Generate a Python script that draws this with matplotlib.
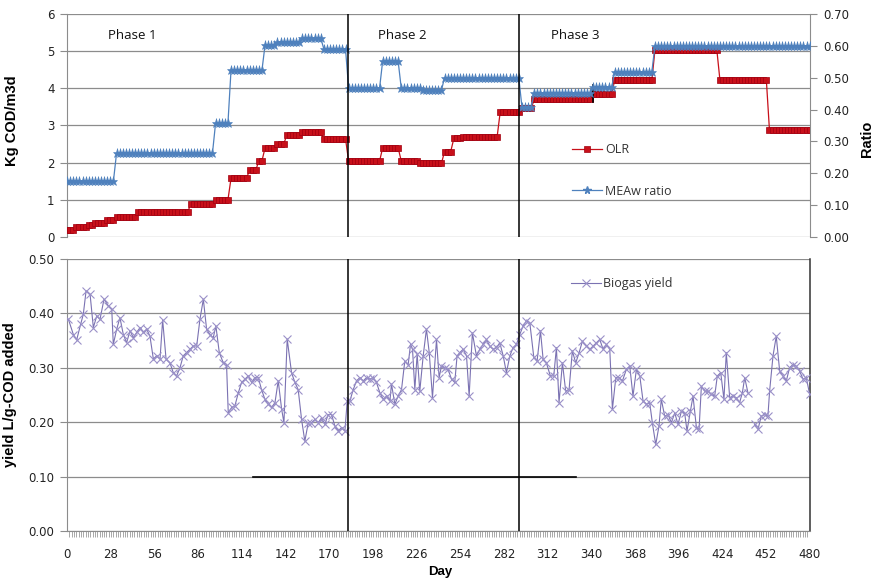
import numpy as np
import matplotlib.pyplot as plt
from matplotlib.lines import Line2D

# ---- data ----
# OLR steps (Kg COD/m3d): start day of each level and its value
olr_start = [0, 5, 13, 17, 26, 31, 46, 80, 95, 106, 118, 123, 128, 136, 142, 152, 166,
             182, 203, 215, 228, 243, 249, 256, 279, 293, 301, 340, 353, 379, 422, 454]
olr_level = [0.19, 0.26, 0.32, 0.38, 0.45, 0.55, 0.68, 0.88, 1.00, 1.58, 1.80, 2.05, 2.40, 2.49, 2.74, 2.83, 2.64,
             2.04, 2.40, 2.05, 1.98, 2.30, 2.65, 2.70, 3.37, 3.46, 3.70, 3.85, 4.22, 5.03, 4.22, 2.88]

# MEAw ratio steps (right axis)
mea_start = [0, 32, 96, 106, 128, 136, 151, 166, 182, 203, 215, 229, 243, 293, 301, 340, 353, 379]
mea_level = [0.176, 0.263, 0.357, 0.524, 0.603, 0.613, 0.624, 0.590, 0.467, 0.552, 0.468, 0.461, 0.500,
             0.409, 0.453, 0.470, 0.519, 0.600]

sample_days = np.arange(0, 481, 2)

# Biogas yield (L/g-COD added)
yield_day = [0.9, 4.1, 6.2, 8.8, 10.5, 12.3, 14.9, 17.0, 19.2, 21.3, 23.9, 26.7, 28.9, 29.9, 32.1, 34.2,
             36.4, 38.5, 40.7, 42.9, 45.0, 47.2, 49.3, 51.5, 53.6, 55.8, 57.9, 60.1, 61.8, 64.0, 66.5, 68.7,
             70.8, 73.0, 75.1, 77.3, 79.4, 81.6, 83.8, 85.9, 88.1, 90.2, 92.4, 94.5, 96.2, 98.4, 101.0, 103.1,
             104.2, 106.4, 108.5, 110.7, 112.8, 115.0, 117.1, 119.3, 121.4, 123.6, 125.7, 127.9, 130.0, 132.2,
             134.4, 136.5, 138.7, 140.2, 142.3, 145.1, 147.3, 149.4, 151.6, 153.7, 155.9, 158.0, 160.2, 162.3,
             164.5, 166.6, 168.8, 171.0, 173.1, 175.3, 177.4, 179.6, 181.1, 182.8, 185.0, 187.1,
             189.3, 191.4, 193.6, 195.7, 197.9, 200.0, 202.2, 204.4, 206.5, 208.7, 209.7, 211.9, 214.0, 216.2,
             218.3, 220.5, 222.0, 223.3, 224.8, 226.3, 228.0, 230.2, 232.3, 234.1, 236.2, 238.8, 240.5, 242.0,
             244.2, 246.3, 248.5, 250.6, 252.1, 253.9, 256.0, 258.2, 259.9, 262.0, 264.6, 266.8, 268.9, 271.1,
             273.2, 275.4, 277.6, 279.7, 281.9, 284.0, 286.2, 288.3, 290.5, 292.6, 294.8, 296.9, 299.1, 301.7,
             303.8, 306.0, 307.7, 309.8, 312.4, 314.6, 316.3, 318.0, 320.2, 322.3, 324.5, 326.6, 328.8, 331.0,
             333.1, 335.7, 337.9, 340.0, 342.2, 344.3, 346.5, 348.6, 350.8, 352.5, 354.7, 356.8, 359.0, 361.5,
             363.7, 365.8, 368.0, 370.2, 372.3, 374.5, 376.6, 378.3, 380.5, 382.6, 384.1, 386.3, 388.5, 390.6,
             392.8, 394.9, 397.1, 399.2, 400.7, 402.9, 404.6, 406.8, 408.5, 410.0, 412.1, 414.3, 416.4, 418.6,
             420.3, 422.5, 424.6, 426.1, 428.3, 430.4, 432.6, 434.7, 436.5, 438.0, 440.1, 442.0,
             444.4, 446.6, 448.7, 450.9, 453.0, 454.1, 456.3, 458.4, 460.6, 462.7, 464.9, 467.0, 469.2, 471.3,
             473.5, 475.7, 477.8, 480.0]
yield_val = [0.389, 0.361, 0.351, 0.380, 0.398, 0.441, 0.435, 0.374, 0.395, 0.389, 0.426, 0.414, 0.408, 0.343,
             0.371, 0.392, 0.361, 0.346, 0.368, 0.355, 0.365, 0.374, 0.365, 0.371, 0.358, 0.316, 0.322, 0.316,
             0.388, 0.316, 0.309, 0.291, 0.285, 0.300, 0.322, 0.328, 0.334, 0.340, 0.340, 0.389, 0.426, 0.371,
             0.361, 0.355, 0.377, 0.328, 0.309, 0.306, 0.217, 0.227, 0.230, 0.254, 0.273, 0.279, 0.285, 0.273,
             0.282, 0.282, 0.260, 0.242, 0.233, 0.227, 0.236, 0.276, 0.224, 0.199, 0.353, 0.291, 0.273, 0.260,
             0.205, 0.165, 0.199, 0.199, 0.205, 0.199, 0.208, 0.196, 0.214, 0.214, 0.193, 0.184, 0.190, 0.184,
             0.239, 0.239, 0.260, 0.276,
             0.282, 0.276, 0.282, 0.279, 0.282, 0.273, 0.254, 0.242, 0.248, 0.239, 0.270, 0.233, 0.248, 0.260,
             0.312, 0.306, 0.343, 0.334, 0.260, 0.325, 0.257, 0.322, 0.371, 0.328, 0.245, 0.352, 0.282, 0.303,
             0.300, 0.297, 0.279, 0.273, 0.322, 0.328, 0.334, 0.322, 0.248, 0.364, 0.322, 0.334, 0.343, 0.352,
             0.340, 0.334, 0.337, 0.346, 0.322, 0.291, 0.322, 0.337, 0.343, 0.361, 0.377, 0.386, 0.383, 0.319,
             0.312, 0.368, 0.316, 0.309, 0.285, 0.285, 0.337, 0.236, 0.309, 0.257, 0.260, 0.331, 0.309, 0.328,
             0.349, 0.340, 0.334, 0.340, 0.346, 0.352, 0.334, 0.343, 0.334, 0.224, 0.282, 0.282, 0.276, 0.297,
             0.303, 0.248, 0.297, 0.285, 0.239, 0.233, 0.236, 0.199, 0.159, 0.193, 0.242, 0.211, 0.214, 0.199,
             0.217, 0.196, 0.220, 0.217, 0.184, 0.220, 0.248, 0.190, 0.187, 0.266, 0.257, 0.257, 0.251, 0.248,
             0.285, 0.291, 0.242, 0.328, 0.245, 0.248, 0.245, 0.236, 0.254, 0.282, 0.254, np.nan,
             0.196, 0.187, 0.211, 0.214, 0.211, 0.257, 0.322, 0.358, 0.294, 0.285, 0.276, 0.300, 0.306, 0.303,
             0.294, 0.279, 0.282, 0.251]

tick_labels = ["0", "28", "56", "86", "114", "142", "170", "198", "226", "254", "282",
               "312", "340", "368", "396", "424", "452", "480"]
phase_lines = [181.5, 292.0]
phase_names = ["Phase 1", "Phase 2", "Phase 3"]
phase_text_day = [26.5, 201, 313]


def steps(starts, levels, days):
    idx = np.searchsorted(starts, days, side="right") - 1
    return np.asarray(levels)[idx]


olr = steps(olr_start, olr_level, sample_days)
mea = steps(mea_start, mea_level, sample_days)

RED = "#C8101A"
BLUE = "#4F81BD"
PURPLE = "#7B72B2"
GRID = "#8C8C8C"
TICKFONT = dict(family="DejaVu Sans", size=8.5, color="#222222")

fig = plt.figure(figsize=(8.82, 5.83), dpi=100)
ax = fig.add_axes([0.076, 0.5935, 0.842, 0.3825])
axb = fig.add_axes([0.076, 0.0892, 0.842, 0.4666])

# ---- top panel ----
ax.plot(sample_days, olr, color=RED, lw=0.9, marker="s", ms=4.2, mfc=RED, mec="#A00010", mew=0.5, zorder=3)
ax.set_xlim(0, 480)
ax.set_ylim(0, 6)
ax.set_yticks(range(7))
ax.set_xticks([])
ax.yaxis.grid(True, color=GRID, lw=0.9)
ax.set_axisbelow(True)
for s in ["top", "bottom", "right"]:
    ax.spines[s].set_visible(False)
ax.spines["left"].set_color(GRID)
ax.tick_params(axis="y", direction="out", length=5, color=GRID, pad=4)
for t in ax.get_yticklabels():
    t.set(**TICKFONT)
ax.set_ylabel("Kg COD/m3d", family="Liberation Sans", weight="bold", size=10.5)
ax.yaxis.set_label_coords(-0.065, 0.52)

ax2 = ax.twinx()
ax2.plot(sample_days, mea, color=BLUE, lw=0.9, marker="*", ms=6.5, mfc=BLUE, mec=BLUE, mew=0.4, zorder=3)
ax2.set_ylim(0, 0.7)
ax2.set_yticks(np.arange(0, 0.71, 0.1))
ax2.set_yticklabels([f"{v:.2f}" for v in np.arange(0, 0.71, 0.1)])
for s in ["top", "bottom", "left"]:
    ax2.spines[s].set_visible(False)
ax2.spines["right"].set_color(GRID)
ax2.tick_params(axis="y", direction="out", length=5, color=GRID, pad=5)
for t in ax2.get_yticklabels():
    t.set(**TICKFONT)
ax2.set_ylabel("Ratio", family="Liberation Sans", weight="bold", size=10.5, rotation=90)
ax2.yaxis.set_label_coords(1.068, 0.44)

for d in phase_lines:
    ax2.axvline(d, color="black", lw=1.1, zorder=5)
ax.plot([339.8, 339.8], [3.63, 4.09], color="black", lw=1.2, zorder=6)

for name, d in zip(phase_names, phase_text_day):
    ax.text(d, 5.43, name, family="Open Sans", size=9.5, va="center", ha="left", color="#111111")

h1 = Line2D([], [], color=RED, lw=0.9, marker="s", ms=4.2, mfc=RED, mec="#A00010", mew=0.5)
h2 = Line2D([], [], color=BLUE, lw=0.9, marker="*", ms=5.5, mfc=BLUE, mec=BLUE)
leg = ax2.legend([h1, h2], ["OLR", "MEAw ratio"], loc="upper left", bbox_to_anchor=(0.672, 0.45),
                 frameon=False, handlelength=2.4, handletextpad=0.2, labelspacing=2.3, borderpad=0,
                 prop=dict(family="Open Sans", size=9))
for t in leg.get_texts():
    t.set_color("#333333")

# ---- bottom panel ----
axb.plot(yield_day, yield_val, color=PURPLE, lw=0.8, marker="x", ms=6, mec="#9A90C8", mew=0.8, zorder=3)
axb.set_xlim(0, 480)
axb.set_ylim(0, 0.5)
axb.set_yticks(np.arange(0, 0.51, 0.1))
axb.set_yticklabels([f"{v:.2f}" for v in np.arange(0, 0.51, 0.1)])
axb.yaxis.grid(True, color=GRID, lw=0.9)
axb.set_axisbelow(True)
axb.spines["top"].set_visible(False)
axb.spines["left"].set_color(GRID)
axb.spines["bottom"].set_color(GRID)
axb.spines["right"].set_color("#333333")
axb.spines["right"].set_linewidth(1.1)
axb.set_xticks(np.arange(18) * 480 / 17)
axb.set_xticklabels(tick_labels)
axb.set_xticks(np.arange(0, 480.1, 1.5), minor=True)
axb.tick_params(axis="x", which="major", direction="out", length=0, pad=12)
axb.tick_params(axis="x", which="minor", direction="out", length=4, color="#9A9A9A", width=0.6)
axb.tick_params(axis="y", direction="out", length=5, color=GRID, pad=4)
for t in axb.get_xticklabels() + axb.get_yticklabels():
    t.set(**TICKFONT)
axb.set_xlabel("Day", family="Liberation Sans", weight="bold", size=9.5)
axb.xaxis.set_label_coords(0.503, -0.13)
axb.set_ylabel("yield L/g-COD added", family="Liberation Sans", weight="bold", size=10.5)
axb.yaxis.set_label_coords(-0.068, 0.5)

for d in phase_lines:
    axb.axvline(d, color="black", lw=1.1, zorder=5)
axb.plot([120, 329], [0.1, 0.1], color="black", lw=1.2, zorder=5)

hb = Line2D([], [], color=PURPLE, lw=0.8, marker="x", ms=6, mec="#9A90C8", mew=0.8)
legb = axb.legend([hb], ["Biogas yield"], loc="upper left", bbox_to_anchor=(0.67, 0.955), frameon=False,
                  handlelength=2.4, handletextpad=0.2, borderpad=0, prop=dict(family="Open Sans", size=9))
for t in legb.get_texts():
    t.set_color("#333333")

fig.savefig("out.png", dpi=100)
